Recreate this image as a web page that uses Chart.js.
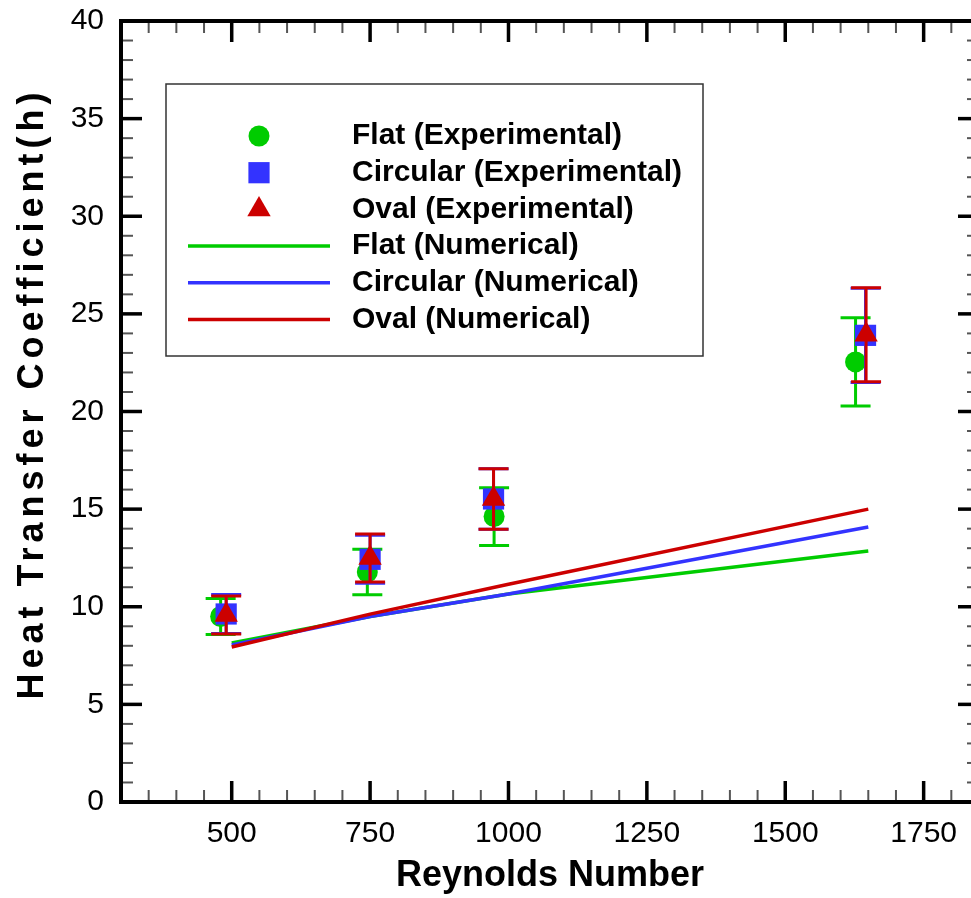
<!DOCTYPE html>
<html>
<head>
<meta charset="utf-8">
<script src="https://cdn.jsdelivr.net/npm/chart.js@4.4.1/dist/chart.umd.min.js"></script>
<style>
  html, body { margin: 0; padding: 0; background: #fff; overflow: hidden; }
  #wrap { width: 994px; height: 898px; }
</style>
</head>
<body>
<div id="wrap"><canvas id="myChart" width="994" height="898"></canvas></div>
<script>
// experimental data (Reynolds number, h, error)
const reFlat = [480, 745, 974, 1627];
const hFlat = [9.5, 11.78, 14.62, 22.54];
const errFlat = [0.92, 1.17, 1.48, 2.26];

const reCirc = [490, 750, 973, 1645];
const hCirc = [9.63, 12.43, 15.52, 23.9];
const errCirc = [1.0, 1.23, 1.55, 2.41];

const reOval = [490, 750, 973, 1646];
const hOval = [9.58, 12.5, 15.52, 23.93];
const errOval = [0.97, 1.23, 1.55, 2.41];

// numerical results
const reNum = [500, 750, 1000, 1650];
const hFlatNum = [8.14, 9.5, 10.65, 12.86];
const hCircNum = [8.04, 9.5, 10.65, 14.08];
const hOvalNum = [7.94, 9.62, 11.15, 15.0];

// axes
const xTicks = [500, 750, 1000, 1250, 1500, 1750];
const yTicks = [0, 5, 10, 15, 20, 25, 30, 35, 40];
const xMinorStep = 50;
const yMinorStep = 1;
const yTitle = "Heat Transfer Coefficient(h)";

const green = "#00cc00", blue = "#3333ff", red = "#cc0000";
const family = "'Liberation Sans', Arial, sans-serif";

function pts(xs, ys) {
    return xs.map((x, i) => ({x: x, y: ys[i]}));
}

// error bars drawn just before each dataset so markers sit on top
const errorBars = {
    id: "errorBars",
    beforeDatasetDraw(chart, args) {
        const ds = chart.data.datasets[args.index];
        if (!ds.err) return;
        const {ctx, scales: {x, y}} = chart;
        ctx.save();
        ctx.strokeStyle = ds.borderColor;
        ctx.lineWidth = 3;
        ds.data.forEach((p, i) => {
            const px = x.getPixelForValue(p.x);
            const top = y.getPixelForValue(p.y + ds.err[i]);
            const bot = y.getPixelForValue(p.y - ds.err[i]);
            ctx.beginPath();
            ctx.moveTo(px, top); ctx.lineTo(px, bot);
            ctx.moveTo(px - 15, top); ctx.lineTo(px + 15, top);
            ctx.moveTo(px - 15, bot); ctx.lineTo(px + 15, bot);
            ctx.stroke();
        });
        ctx.restore();
    }
};

// box frame with inward ticks on all four sides
const frameTicks = {
    id: "frameTicks",
    afterDatasetsDraw(chart) {
        const {ctx, chartArea: a, scales: {x, y}} = chart;
        const seg = (x1, y1, x2, y2) => { ctx.beginPath(); ctx.moveTo(x1, y1); ctx.lineTo(x2, y2); ctx.stroke(); };
        ctx.save();
        ctx.strokeStyle = "#555";
        ctx.lineWidth = 2;
        for (let v = x.min + xMinorStep; v < x.max; v += xMinorStep) {
            if (xTicks.includes(v)) continue;
            const px = x.getPixelForValue(v);
            seg(px, a.bottom, px, a.bottom - 12);
            seg(px, a.top, px, a.top + 12);
        }
        for (let v = y.min + yMinorStep; v < y.max; v += yMinorStep) {
            if (yTicks.includes(v)) continue;
            const py = y.getPixelForValue(v);
            seg(a.left, py, a.left + 12, py);
            seg(a.right, py, a.right - 12, py);
        }
        ctx.strokeStyle = "#000";
        ctx.lineWidth = 3.5;
        xTicks.forEach(v => {
            const px = x.getPixelForValue(v);
            seg(px, a.bottom, px, a.bottom - 21);
            seg(px, a.top, px, a.top + 21);
        });
        yTicks.forEach(v => {
            const py = y.getPixelForValue(v);
            seg(a.left, py, a.left + 21, py);
            seg(a.right, py, a.right - 21, py);
        });
        ctx.lineWidth = 4;
        ctx.strokeRect(a.left, a.top, a.right - a.left, a.bottom - a.top);
        ctx.restore();
    }
};

// boxed legend inside the plot, plus the spaced-out y title
const boxLegend = {
    id: "boxLegend",
    afterDraw(chart) {
        const ctx = chart.ctx;
        ctx.save();
        ctx.fillStyle = "#fff";
        ctx.strokeStyle = "#333";
        ctx.lineWidth = 1.5;
        ctx.fillRect(166, 84, 537, 272);
        ctx.strokeRect(166, 84, 537, 272);
        chart.data.datasets.forEach((ds, i) => {
            const yy = 136 + i * 36.7;
            if (ds.showLine) {
                ctx.strokeStyle = ds.borderColor;
                ctx.lineWidth = 3.5;
                ctx.beginPath();
                ctx.moveTo(188, yy); ctx.lineTo(330, yy);
                ctx.stroke();
            } else {
                ctx.fillStyle = ds.backgroundColor;
                Chart.helpers.drawPoint(ctx, {pointStyle: ds.pointStyle, radius: ds.pointRadius, borderWidth: 0, rotation: 0}, 259, yy);
            }
            ctx.fillStyle = "#000";
            ctx.font = "bold 30px " + family;
            ctx.textBaseline = "middle";
            ctx.fillText(ds.label, 352, yy);
        });
        ctx.restore();

        ctx.save();
        ctx.translate(33, 396);
        ctx.rotate(-Math.PI / 2);
        ctx.font = "bold 36px " + family;
        ctx.letterSpacing = "5px";
        ctx.textAlign = "center";
        ctx.textBaseline = "middle";
        ctx.fillStyle = "#000";
        ctx.fillText(yTitle, 2.5, 0);
        ctx.restore();
    }
};

const expStyle = (label, xs, ys, err, color, style, r, order) => ({
    label: label, data: pts(xs, ys), err: err,
    pointStyle: style, pointRadius: r, pointHoverRadius: r,
    backgroundColor: color, borderColor: color, borderWidth: 0,
    showLine: false, order: order
});
const numStyle = (label, ys, color, order) => ({
    label: label, data: pts(reNum, ys),
    showLine: true, pointRadius: 0, borderWidth: 3.5,
    borderColor: color, backgroundColor: color, fill: false, order: order
});

var ctx = document.getElementById("myChart").getContext("2d");
new Chart(ctx, {
    type: "scatter",
    data: {
        datasets: [
            expStyle("Flat (Experimental)", reFlat, hFlat, errFlat, green, "circle", 10.5, 3),
            expStyle("Circular (Experimental)", reCirc, hCirc, errCirc, blue, "rect", 15, 2),
            expStyle("Oval (Experimental)", reOval, hOval, errOval, red, "triangle", 13.5, 1),
            numStyle("Flat (Numerical)", hFlatNum, green, 6),
            numStyle("Circular (Numerical)", hCircNum, blue, 5),
            numStyle("Oval (Numerical)", hOvalNum, red, 4)
        ]
    },
    options: {
        responsive: false,
        animation: false,
        layout: { padding: { top: 21, right: 2.6, left: 0, bottom: 0 } },
        plugins: {
            legend: { display: false },
            tooltip: { enabled: false }
        },
        scales: {
            x: {
                type: "linear", min: 300, max: 1850,
                afterBuildTicks: s => { s.ticks = xTicks.map(v => ({value: v})); },
                afterFit: s => { s.height = 96; s.paddingLeft = 0; s.paddingRight = 0; },
                grid: { display: false, drawTicks: false },
                border: { display: false },
                ticks: { color: "#000", padding: 14, maxRotation: 0, autoSkip: false,
                         font: { size: 30, family: family }, callback: v => String(v) },
                title: { display: true, text: "Reynolds Number", color: "#000",
                         padding: { top: 0, bottom: 0 },
                         font: { size: 36, weight: "bold", family: family } }
            },
            y: {
                min: 0, max: 40,
                afterBuildTicks: s => { s.ticks = yTicks.map(v => ({value: v})); },
                afterFit: s => { s.width = 121; s.paddingTop = 0; s.paddingBottom = 0; },
                grid: { display: false, drawTicks: false },
                border: { display: false },
                ticks: { color: "#000", padding: 17, autoSkip: false,
                         font: { size: 30, family: family }, callback: v => String(v) },
                title: { display: false }
            }
        }
    },
    plugins: [errorBars, frameTicks, boxLegend]
});
</script>
</body>
</html>
